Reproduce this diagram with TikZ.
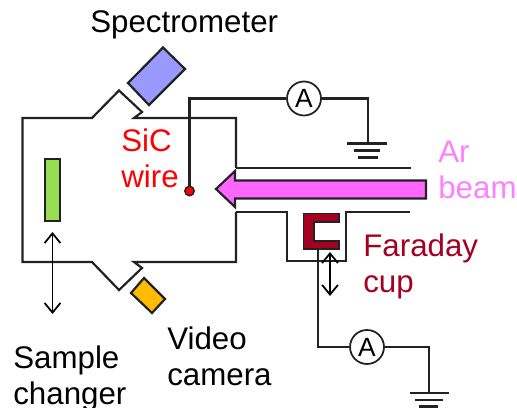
\documentclass[tikz,border=0pt]{standalone}
\usepackage{fontspec}
\setmainfont{Liberation Sans}
\usetikzlibrary{arrows.meta}

\definecolor{beampink}{HTML}{FF66FF}
\definecolor{beamtext}{HTML}{FF80FF}
\definecolor{cupred}{HTML}{A50021}
\definecolor{specblue}{HTML}{9999FF}
\definecolor{samplegreen}{HTML}{99DD55}
\definecolor{camorange}{HTML}{FFBB00}
\definecolor{linegray}{HTML}{222222}

\tikzset{
  wall/.style={draw=linegray, line width=1.25pt},
  meter/.style={circle, draw=linegray, fill=white, line width=1pt, inner sep=0pt,
    minimum size=0.68cm, font=\fontsize{15}{15}\selectfont},
  label/.style={anchor=west, align=left, inner sep=0pt,
    font=\fontsize{17.8}{20.4}\selectfont},
  move/.style={draw=black, line width=1pt, {Straight Barb[length=5.5pt,width=9pt]}-{Straight Barb[length=5.5pt,width=9pt]}}
}

\begin{document}
\begin{tikzpicture}[x=0.02cm, y=-0.02cm]
  \useasboundingbox (0,0) rectangle (517,408);

  % chamber
  \draw [wall] (236,168) -- (236,118) -- (134,118) -- (142,112) -- (119,90.5) -- (92,118)
        -- (22.5,118) -- (22.5,262) -- (92,262) -- (119,290) -- (142,268) -- (134,262)
        -- (236,262) -- (236,212);

  % beam tube
  \draw [wall] (236,168) -- (411,168);
  \draw [wall] (236,212) -- (287,212) -- (287,261) -- (346,261) -- (346,212) -- (410,212);

  % parts on the ports
  \draw [wall, fill=specblue] (163,47.5) -- (185,69) -- (149,105) -- (128,83) -- cycle;
  \draw [wall, fill=camorange] (144,278) -- (165,299) -- (152,313) -- (131,293) -- cycle;
  \draw [wall, fill=samplegreen] (45,159) rectangle (60,221);

  % Ar beam
  \draw [wall, fill=beampink] (216,189) -- (235,171) -- (235,180.5) -- (426,180.5)
        -- (426,198.5) -- (235,198.5) -- (235,207) -- cycle;

  % wire and its meter
  \node [circle, draw=linegray, fill=red, line width=0.8pt, inner sep=0pt, minimum size=0.19cm] (wiredot) at (189.5,191) {};
  \node [meter] (meterwire) at (304,98.5) {A};
  \coordinate (gndwire) at (368,143.5);
  \draw [wall] (wiredot) -- (wiredot |- meterwire) -- (meterwire);
  \draw [wall] (meterwire) -- (meterwire -| gndwire) -- (gndwire);
  \draw [wall] (347,143.5) -- (387,143.5);
  \draw [wall] (354,150.5) -- (380,150.5);
  \draw [wall] (358,157.5) -- (378,157.5);

  % Faraday cup and its meter
  \fill [cupred, draw=linegray, line width=0.6pt] (339,213.5) -- (303.5,213.5) -- (303.5,249) -- (339,249)
        -- (339,241) -- (314,241) -- (314,222) -- (339,222) -- cycle;
  \coordinate (cupfoot) at (318,249);
  \node [meter] (metercup) at (367,347) {A};
  \coordinate (gndcup) at (429,393);
  \draw [wall] (cupfoot) -- (cupfoot |- metercup) -- (metercup);
  \draw [wall] (metercup) -- (metercup -| gndcup) -- (gndcup);
  \draw [wall] (410,393) -- (449,393);
  \draw [wall] (415,400) -- (443,400);
  \draw [wall] (419,406.5) -- (438,406.5);

  % movements
  \coordinate (sampletop) at (52.5,232);
  \coordinate (samplelow) at (52.5,314);
  \coordinate (cuptop) at (330,252);
  \coordinate (cuplow) at (330,296);
  \draw [move] (sampletop) -- (samplelow);
  \draw [move] (cuptop) -- (cuplow);

  % labels
  \node [label] (spectrolabel) at (90,25) {Spectrometer};
  \node [label, text=red] (siclabel) at (121,158.5) {SiC\\wire};
  \node [label, text=beamtext] (arlabel) at (438,169.5) {Ar\\beam};
  \node [label, text=cupred] (cuplabel) at (363,266.5) {Faraday\\cup};
  \node [label] (cameralabel) at (167,356) {Video\\camera};
  \node [label] (samplelabel) at (13,378) {Sample\\changer};

\end{tikzpicture}
\end{document}
